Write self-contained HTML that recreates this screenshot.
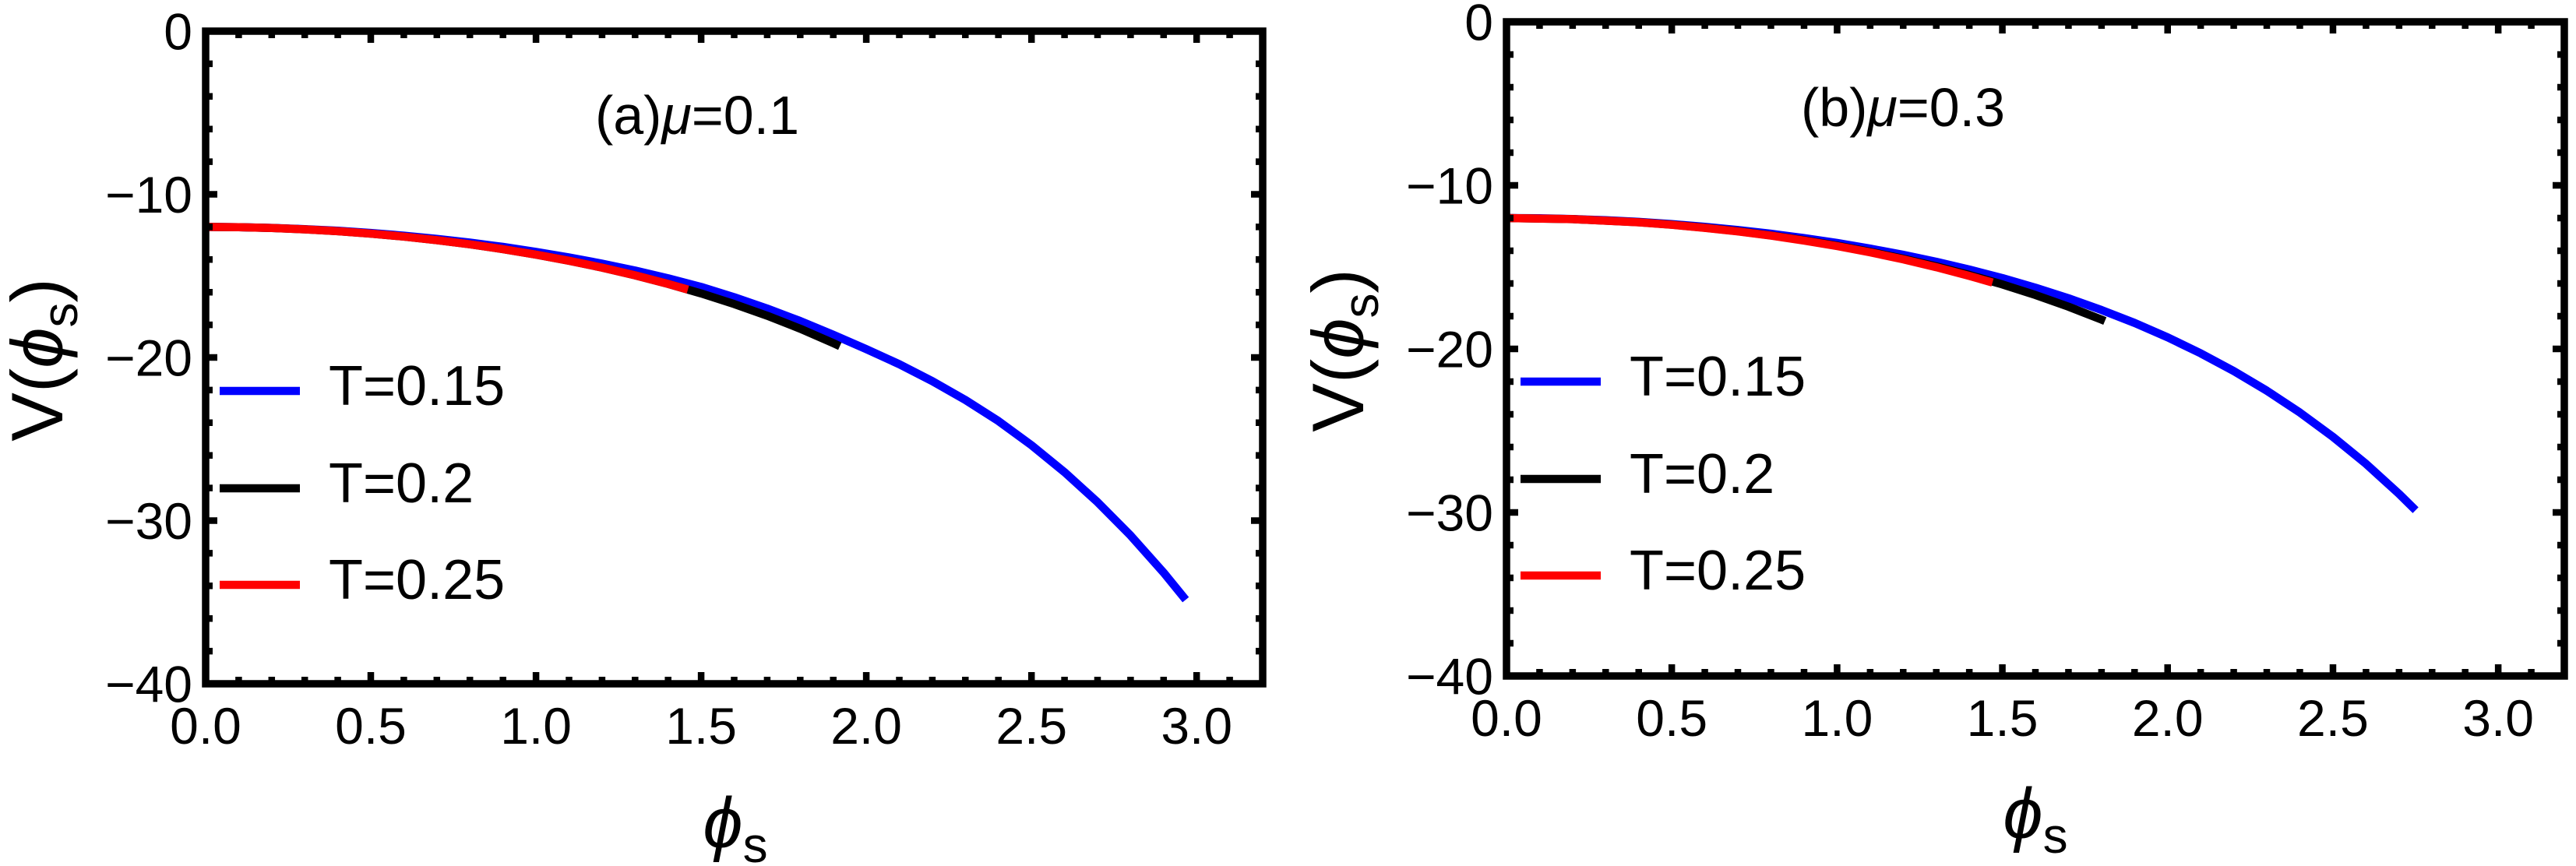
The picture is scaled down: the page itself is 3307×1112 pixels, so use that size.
<!DOCTYPE html>
<html><head><meta charset="utf-8"><style>
html,body{margin:0;padding:0;background:#fff;}
svg{display:block;}
text{font-family:"Liberation Sans","DejaVu Sans",sans-serif;fill:#000;}
.it{font-style:italic;font-family:"Liberation Sans","DejaVu Sans",sans-serif;}
</style></head><body>
<svg width="3307" height="1112" viewBox="0 0 3307 1112" xmlns="http://www.w3.org/2000/svg">
<rect width="3307" height="1112" fill="#fff"/>
<defs>
<g id="axes">
 <path fill="none" stroke="#000" stroke-width="8.5" d="
 M476 878v-15M688.1 878v-15M900.1 878v-15M1112.1 878v-15M1324.2 878v-15M1536.2 878v-15
 M306.4 878v-9M348.8 878v-9M391.2 878v-9M433.6 878v-9M518.4 878v-9M560.8 878v-9M603.2 878v-9M645.7 878v-9M730.5 878v-9M772.9 878v-9M815.3 878v-9M857.7 878v-9M942.5 878v-9M984.9 878v-9M1027.3 878v-9M1069.7 878v-9M1154.5 878v-9M1196.9 878v-9M1239.3 878v-9M1281.7 878v-9M1366.6 878v-9M1409 878v-9M1451.4 878v-9M1493.8 878v-9M1578.6 878v-9
 M476 40v15M688.1 40v15M900.1 40v15M1112.1 40v15M1324.2 40v15M1536.2 40v15
 M306.4 40v9M348.8 40v9M391.2 40v9M433.6 40v9M518.4 40v9M560.8 40v9M603.2 40v9M645.7 40v9M730.5 40v9M772.9 40v9M815.3 40v9M857.7 40v9M942.5 40v9M984.9 40v9M1027.3 40v9M1069.7 40v9M1154.5 40v9M1196.9 40v9M1239.3 40v9M1281.7 40v9M1366.6 40v9M1409 40v9M1451.4 40v9M1493.8 40v9M1578.6 40v9
 M264 249.5h15M264 459h15M264 668.5h15
 M264 81.9h9M264 123.8h9M264 165.7h9M264 207.6h9M264 291.4h9M264 333.3h9M264 375.2h9M264 417.1h9M264 500.9h9M264 542.8h9M264 584.7h9M264 626.6h9M264 710.4h9M264 752.3h9M264 794.2h9M264 836.1h9
 M1621 249.5h-15M1621 459h-15M1621 668.5h-15
 M1621 81.9h-9M1621 123.8h-9M1621 165.7h-9M1621 207.6h-9M1621 291.4h-9M1621 333.3h-9M1621 375.2h-9M1621 417.1h-9M1621 500.9h-9M1621 542.8h-9M1621 584.7h-9M1621 626.6h-9M1621 710.4h-9M1621 752.3h-9M1621 794.2h-9M1621 836.1h-9
 "/>
 <rect x="264" y="40" width="1357" height="838" fill="none" stroke="#000" stroke-width="9.5" stroke-linejoin="miter"/>
 <g font-size="66" text-anchor="end">
  <text x="247" y="63.5">0</text>
  <text x="247" y="273">−10</text>
  <text x="247" y="482.5">−20</text>
  <text x="247" y="692">−30</text>
  <text x="247" y="901.5">−40</text>
 </g>
 <g font-size="66" text-anchor="middle">
  <text x="264" y="955">0.0</text>
  <text x="476" y="955">0.5</text>
  <text x="688.1" y="955">1.0</text>
  <text x="900.1" y="955">1.5</text>
  <text x="1112.1" y="955">2.0</text>
  <text x="1324.2" y="955">2.5</text>
  <text x="1536.2" y="955">3.0</text>
 </g>
</g>
</defs>

<!-- LEFT PANEL curves -->
<g fill="none" stroke-linecap="butt" stroke-linejoin="round" stroke-width="10.5">
 <polyline stroke="#0000ff" points="264,291.4 306.4,291.7 348.8,292.6 391.2,294.2 433.6,296.3 476,299.1 518.4,302.6 560.8,306.7 603.2,311.5 645.7,317 688.1,323.4 730.5,330.5 772.9,338.5 815.3,347.4 857.7,357.3 900.1,368.4 942.5,381.6 984.9,396.2 1027.3,412.2 1069.7,429.8 1112.1,448.3 1154.5,467.7 1196.9,489.4 1239.3,513.6 1281.7,540.6 1324.2,571.7 1366.6,606.3 1409,644.8 1451.4,687.6 1493.8,735.2 1522.2,770.1"/>
 <polyline stroke="#000000" points="264,291.4 306.4,291.7 348.8,292.8 391.2,294.5 433.6,296.9 476,300 518.4,303.8 560.8,308.4 603.2,313.7 645.7,319.9 688.1,326.9 730.5,334.8 772.9,343.6 815.3,353.5 857.7,364.6 900.1,376.8 942.5,390.4 984.9,405.4 1027.3,422.1 1069.7,440.6 1078.2,444.5"/>
 <polyline stroke="#ff0000" points="264,291.4 306.4,291.7 348.8,292.8 391.2,294.5 433.6,296.9 476,300 518.4,303.8 560.8,308.4 603.2,313.7 645.7,319.9 688.1,326.9 730.5,334.8 772.9,343.6 815.3,353.5 857.7,364.6 883.1,371.8"/>
</g>

<!-- RIGHT PANEL curves -->
<g fill="none" stroke-linecap="butt" stroke-linejoin="round" stroke-width="10.5">
 <polyline stroke="#0000ff" points="1934,280 1976.4,280.3 2018.9,281.2 2061.3,282.8 2103.8,284.9 2146.2,287.7 2188.6,291.2 2231.1,295.3 2273.5,300.1 2316,305.7 2358.4,312 2400.8,319.2 2443.3,327.2 2485.7,336.1 2528.2,346.1 2570.6,357.1 2613,369.4 2655.5,383 2697.9,398.1 2740.4,414.7 2782.8,433.2 2825.2,453.7 2867.7,476.5 2910.1,501.7 2952.6,529.8 2995,561 3037.4,595.6 3079.9,634.2 3101.1,655.1"/>
 <polyline stroke="#000000" points="1934,280 2018.9,281.4 2103.8,285.4 2146.2,288.5 2188.6,292.4 2231.1,296.9 2273.5,302.3 2316,308.4 2358.4,315.4 2400.8,323.3 2443.3,332.1 2485.7,342 2528.2,353 2570.6,365.2 2613,378.8 2655.5,393.8 2697.9,410.4 2702.2,412.2"/>
 <polyline stroke="#ff0000" points="1934,280 2018.9,281.4 2103.8,285.5 2146.2,288.7 2188.6,292.6 2231.1,297.2 2273.5,302.6 2316,308.9 2358.4,316 2400.8,324 2443.3,333 2485.7,343.1 2528.2,354.3 2557.9,362.8"/>
</g>

<!-- Axes (frames, ticks, tick labels) -->
<use href="#axes"/>
<use href="#axes" transform="translate(1934,28) scale(1.00074,1.00239) translate(-264,-40)"/>

<!-- LEFT legend -->
<g stroke-width="10.5" stroke-linecap="butt">
 <line x1="282" y1="502" x2="385" y2="502" stroke="#0000ff"/>
 <line x1="282" y1="627" x2="385" y2="627" stroke="#000"/>
 <line x1="282" y1="751" x2="385" y2="751" stroke="#ff0000"/>
</g>
<g font-size="72">
 <text x="422" y="520">T=0.15</text>
 <text x="422" y="645">T=0.2</text>
 <text x="422" y="769">T=0.25</text>
</g>

<!-- RIGHT legend -->
<g stroke-width="10.5" stroke-linecap="butt">
 <line x1="1952" y1="490" x2="2055" y2="490" stroke="#0000ff"/>
 <line x1="1952" y1="615" x2="2055" y2="615" stroke="#000"/>
 <line x1="1952" y1="739" x2="2055" y2="739" stroke="#ff0000"/>
</g>
<g font-size="72">
 <text x="2092" y="508">T=0.15</text>
 <text x="2092" y="633">T=0.2</text>
 <text x="2092" y="757">T=0.25</text>
</g>

<!-- Titles -->
<text x="895" y="172" font-size="70" text-anchor="middle">(a)<tspan class="it">μ</tspan>=0.1</text>
<text x="2443" y="162" font-size="70" text-anchor="middle">(b)<tspan class="it">μ</tspan>=0.3</text>

<!-- Y labels -->
<text transform="translate(80,462) rotate(-90)" font-size="94" text-anchor="middle">V(<tspan class="it">ϕ</tspan><tspan font-size="64" dy="19">s</tspan><tspan dy="-19">)</tspan></text>
<text transform="translate(1750,450) rotate(-90)" font-size="94" text-anchor="middle">V(<tspan class="it">ϕ</tspan><tspan font-size="64" dy="19">s</tspan><tspan dy="-19">)</tspan></text>

<!-- X labels -->
<text x="944" y="1088" font-size="92" text-anchor="middle"><tspan class="it">ϕ</tspan><tspan font-size="64" dy="19">s</tspan></text>
<text x="2613" y="1076" font-size="92" text-anchor="middle"><tspan class="it">ϕ</tspan><tspan font-size="64" dy="19">s</tspan></text>
</svg>
</body></html>
